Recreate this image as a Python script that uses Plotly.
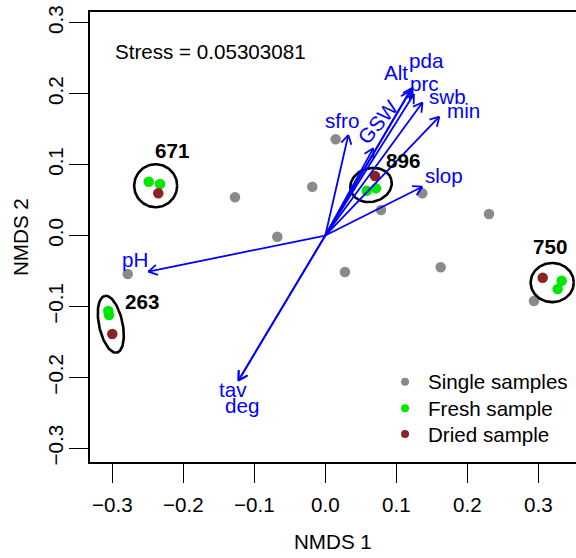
import numpy as np
import plotly.graph_objects as go

# NMDS scores of the single samples
single_x = [0.0146, -0.0183, -0.1272, -0.0676, -0.2783, 0.0277, 0.0785, 0.1366, 0.2306, 0.1625, 0.2939]
single_y = [0.1356, 0.0688, 0.0539, -0.0017, -0.0543, -0.0515, 0.0360, 0.0595, 0.0303, -0.0448, -0.0923]

# Replicated sites: fresh and dried samples
fresh_x = [-0.2487, -0.2328, -0.3056, -0.3046, 0.3330, 0.3273, 0.0583, 0.0714]
fresh_y = [0.0758, 0.0726, -0.1064, -0.1121, -0.0637, -0.0754, 0.0632, 0.0665]
dried_x = [-0.2352, -0.3000, 0.3062, 0.0700]
dried_y = [0.0595, -0.1389, -0.0595, 0.0839]

# Site groups (ellipse centre, semi-axes, rotation in degrees) and labels
site_labels = ["671", "263", "750", "896"]
site_label_x = [-0.2163, -0.2586, 0.3165, 0.1090]
site_label_y = [0.1196, -0.0933, -0.0158, 0.1053]
site_cx = [-0.2389, -0.3021, 0.3196, 0.0644]
site_cy = [0.0702, -0.1251, -0.0663, 0.0712]
site_a = [0.0303, 0.0409, 0.0304, 0.0296]
site_b = [0.0303, 0.0166, 0.0276, 0.0237]
site_angle = [0, 102, 0, 15]

# Fitted environmental vectors
env_names = ["pH", "tav", "deg", "sfro", "GSW", "Alt", "pda", "prc", "swb", "min", "slop"]
env_x = [-0.2493, -0.1225, -0.1220, 0.0324, 0.0676, 0.1193, 0.1221, 0.1249, 0.1369, 0.1606, 0.1366]
env_y = [-0.0510, -0.2047, -0.2040, 0.1417, 0.1229, 0.2037, 0.2080, 0.1995, 0.1875, 0.1675, 0.0688]
env_label_x = [-0.2676, -0.1300, -0.1177, 0.0242, 0.0746, 0.0993, 0.1428, 0.1393, 0.1721, 0.1944, 0.1675]
env_label_y = [-0.0345, -0.2164, -0.2390, 0.1628, 0.1604, 0.2298, 0.2474, 0.2143, 0.1957, 0.1758, 0.0853]
env_label_angle = [0, 0, 0, 0, -50, 0, 0, 0, 0, 0, 0]

stress_text = "Stress = 0.05303081"
legend_labels = ["Single samples", "Fresh sample", "Dried sample"]

GREY = "#8a8a8a"
GREEN = "#00e800"
BROWN = "#8b2323"
BLUE = "#0000ff"
FONT = "Liberation Sans, Arial, Helvetica, sans-serif"
FS = 20.6

fig = go.Figure()

# points
fig.add_trace(go.Scatter(x=single_x, y=single_y, mode="markers",
                         marker=dict(color=GREY, size=10.5), hoverinfo="skip"))
fig.add_trace(go.Scatter(x=fresh_x, y=fresh_y, mode="markers",
                         marker=dict(color=GREEN, size=10.5), hoverinfo="skip"))
fig.add_trace(go.Scatter(x=dried_x, y=dried_y, mode="markers",
                         marker=dict(color=BROWN, size=10.5), hoverinfo="skip"))

# ellipses around replicated sites
t = np.linspace(0, 2 * np.pi, 120)
for cx, cy, a, b, ang in zip(site_cx, site_cy, site_a, site_b, site_angle):
    th = np.deg2rad(ang)
    ex = cx + a * np.cos(t) * np.cos(th) - b * np.sin(t) * np.sin(th)
    ey = cy + a * np.cos(t) * np.sin(th) + b * np.sin(t) * np.cos(th)
    fig.add_trace(go.Scatter(x=ex, y=ey, mode="lines",
                             line=dict(color="black", width=2.6), hoverinfo="skip"))

# vectors with open arrow heads
head = 0.0145
ax_, ay_ = [], []
for vx, vy in zip(env_x, env_y):
    ax_ += [0, vx, None]
    ay_ += [0, vy, None]
    th = np.arctan2(vy, vx)
    for s in (np.pi / 6, -np.pi / 6):
        ax_ += [vx - head * np.cos(th + s), vx, None]
        ay_ += [vy - head * np.sin(th + s), vy, None]
fig.add_trace(go.Scatter(x=ax_, y=ay_, mode="lines",
                         line=dict(color=BLUE, width=1.8), hoverinfo="skip"))

for name, lx, ly, la in zip(env_names, env_label_x, env_label_y, env_label_angle):
    fig.add_annotation(x=lx, y=ly, text=name, showarrow=False, textangle=la,
                       font=dict(family=FONT, size=FS, color=BLUE))

for name, lx, ly in zip(site_labels, site_label_x, site_label_y):
    fig.add_annotation(x=lx, y=ly, text="<b>%s</b>" % name, showarrow=False,
                       font=dict(family=FONT, size=FS, color="black"))

fig.add_annotation(x=-0.2994, y=0.2591, text=stress_text, showarrow=False,
                   xanchor="left", yanchor="middle",
                   font=dict(family=FONT, size=FS, color="black"))

# legend (bottom right)
leg_x, leg_tx = 0.1123, 0.1418
leg_y = [-0.2061, -0.2436, -0.2799]
fig.add_trace(go.Scatter(x=[leg_x] * 3, y=leg_y, mode="markers",
                         marker=dict(color=[GREY, GREEN, BROWN], size=8), hoverinfo="skip"))
for lab, yy in zip(legend_labels, leg_y):
    fig.add_annotation(x=leg_tx, y=yy, text=lab, showarrow=False, xanchor="left",
                       yanchor="middle", font=dict(family=FONT, size=FS, color="black"))

# axis titles
fig.add_annotation(x=0.5, y=0, xref="paper", yref="paper", yshift=-79,
                   text="NMDS 1", showarrow=False, xanchor="center", yanchor="middle",
                   font=dict(family=FONT, size=FS, color="black"))
fig.add_annotation(x=0, y=0.5, xref="paper", yref="paper", xshift=-70, textangle=-90,
                   text="NMDS 2", showarrow=False, xanchor="center", yanchor="middle",
                   font=dict(family=FONT, size=FS, color="black"))

axis_common = dict(showgrid=False, zeroline=False, showline=True, linecolor="black",
                   linewidth=1.8, ticks="outside", ticklen=19, tickwidth=1.3,
                   tickcolor="black", tickvals=[-0.3, -0.2, -0.1, 0.0, 0.1, 0.2, 0.3],
                   tickformat=".1f", tickfont=dict(family=FONT, size=FS, color="black"))

fig.update_layout(
    width=576, height=558,
    margin=dict(l=90, r=0, t=12, b=96),
    plot_bgcolor="white", paper_bgcolor="white",
    showlegend=False,
    xaxis=dict(range=[-0.3314, 0.3531], mirror=True, ticklabelstandoff=4, **axis_common),
    yaxis=dict(range=[-0.3193, 0.3151], mirror=False, tickangle=-90, ticklabelstandoff=-2,
               **axis_common),
)

fig.write_html("out.html")
